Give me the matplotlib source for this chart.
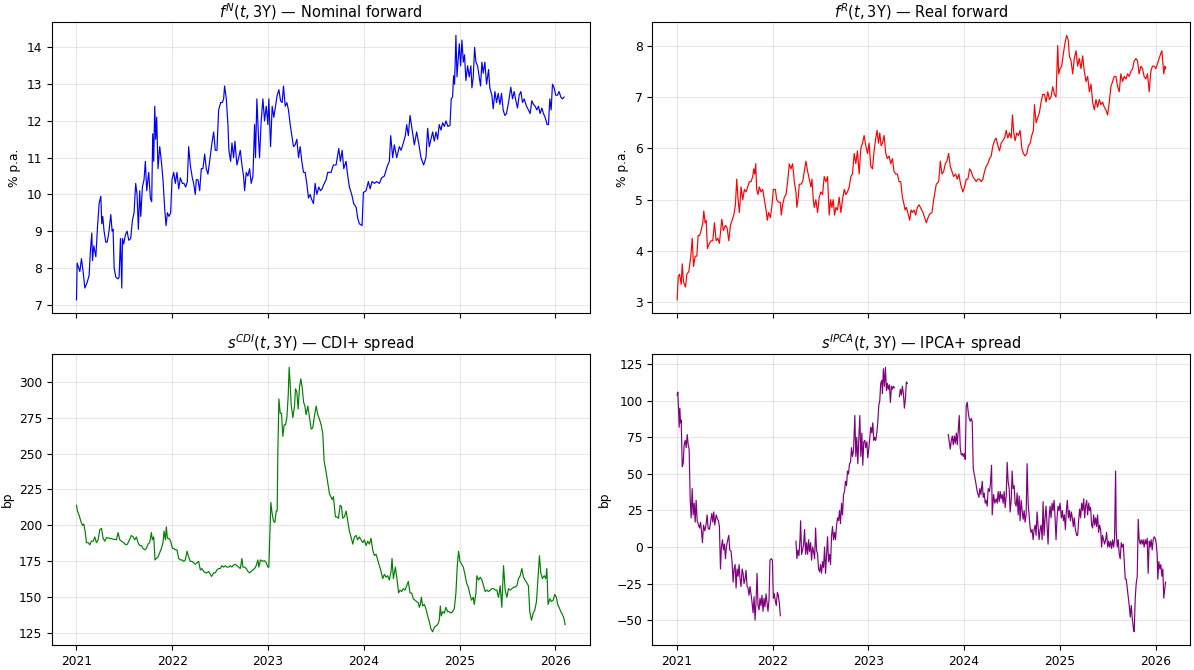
import matplotlib
matplotlib.use("Agg")
import matplotlib.pyplot as plt
import matplotlib.dates as mdates
import numpy as np
import pandas as pd

# time is stored as years since 2021-01-01
nom_t = [0.000, 0.007, 0.035, 0.052, 0.069, 0.087, 0.111, 0.132, 0.146, 0.160, 0.167, 0.181, 0.202, 0.219,
         0.236, 0.254, 0.264, 0.274, 0.288, 0.306, 0.320, 0.337, 0.358, 0.372, 0.382, 0.393, 0.410, 0.434,
         0.445, 0.459, 0.473, 0.480, 0.493, 0.511, 0.528, 0.546, 0.566, 0.584, 0.601, 0.618, 0.632, 0.646,
         0.660, 0.671, 0.688, 0.705, 0.719, 0.733, 0.754, 0.771, 0.785, 0.796, 0.806, 0.817, 0.827, 0.837,
         0.851, 0.869, 0.886, 0.903, 0.921, 0.935, 0.949, 0.966, 0.983, 0.997, 1.015, 1.032, 1.049, 1.067,
         1.084, 1.105, 1.122, 1.140, 1.157, 1.171, 1.188, 1.209, 1.223, 1.240, 1.251, 1.268, 1.286, 1.303,
         1.320, 1.338, 1.355, 1.372, 1.390, 1.414, 1.432, 1.449, 1.466, 1.484, 1.505, 1.522, 1.536, 1.546,
         1.564, 1.581, 1.591, 1.609, 1.623, 1.640, 1.654, 1.675, 1.692, 1.710, 1.727, 1.744, 1.755, 1.772,
         1.789, 1.807, 1.824, 1.842, 1.859, 1.869, 1.883, 1.901, 1.911, 1.928, 1.946, 1.963, 1.981, 1.998,
         2.008, 2.026, 2.043, 2.060, 2.078, 2.095, 2.113, 2.130, 2.147, 2.161, 2.179, 2.196, 2.213, 2.231,
         2.248, 2.265, 2.283, 2.300, 2.318, 2.335, 2.352, 2.370, 2.387, 2.404, 2.422, 2.439, 2.457, 2.474,
         2.491, 2.509, 2.530, 2.547, 2.564, 2.578, 2.606, 2.623, 2.658, 2.682, 2.710, 2.738, 2.755, 2.773,
         2.790, 2.814, 2.832, 2.849, 2.873, 2.894, 2.919, 2.936, 2.953, 2.981, 2.995, 3.023, 3.047, 3.065,
         3.085, 3.110, 3.134, 3.162, 3.186, 3.214, 3.242, 3.266, 3.280, 3.301, 3.318, 3.343, 3.370, 3.388,
         3.412, 3.433, 3.447, 3.464, 3.482, 3.502, 3.527, 3.551, 3.572, 3.596, 3.624, 3.648, 3.666, 3.683,
         3.700, 3.718, 3.735, 3.753, 3.770, 3.787, 3.805, 3.822, 3.840, 3.857, 3.878, 3.899, 3.912, 3.926,
         3.937, 3.947, 3.961, 3.972, 3.985, 3.996, 4.010, 4.024, 4.038, 4.051, 4.065, 4.083, 4.100, 4.117,
         4.128, 4.142, 4.156, 4.170, 4.187, 4.204, 4.218, 4.232, 4.246, 4.263, 4.281, 4.302, 4.315, 4.336,
         4.350, 4.368, 4.385, 4.402, 4.420, 4.437, 4.454, 4.472, 4.489, 4.510, 4.534, 4.552, 4.569, 4.587,
         4.604, 4.621, 4.639, 4.656, 4.673, 4.698, 4.718, 4.736, 4.753, 4.771, 4.788, 4.805, 4.823, 4.840,
         4.858, 4.875, 4.892, 4.913, 4.927, 4.941, 4.955, 4.969, 4.986, 5.003, 5.021, 5.038, 5.056, 5.073,
         5.090]
nom_vals = [7.13, 8.13, 7.9, 8.25, 7.9, 7.45, 7.6, 7.8, 8.5, 8.95, 8.2, 8.6, 8.3, 9.1,
            9.75, 9.95, 9.2, 9.4, 9.0, 8.7, 8.7, 8.95, 9.45, 9.0, 9.05, 8.0, 7.75, 7.7,
            7.75, 8.8, 7.45, 8.8, 8.65, 8.9, 9.0, 8.75, 8.8, 9.3, 9.5, 10.3, 10.0, 9.05,
            10.1, 9.4, 10.2, 10.4, 10.9, 10.1, 10.6, 9.9, 9.8, 11.65, 10.9, 12.4, 11.5, 12.1,
            10.7, 11.3, 10.9, 10.4, 9.6, 9.15, 9.5, 9.4, 9.5, 10.4, 10.6, 10.3, 10.6, 10.15,
            10.45, 10.3, 10.3, 10.2, 10.35, 11.3, 10.8, 10.45, 10.3, 10.0, 10.4, 10.4, 10.1, 10.7,
            10.7, 11.1, 10.7, 10.55, 10.9, 11.4, 11.7, 11.2, 11.2, 12.3, 12.5, 12.5, 12.6, 12.95,
            12.6, 11.9, 11.2, 10.9, 11.4, 11.0, 11.45, 10.8, 11.0, 11.2, 10.8, 10.5, 10.1, 10.6,
            10.5, 10.7, 10.3, 10.5, 11.9, 11.0, 12.6, 11.5, 11.0, 12.0, 12.6, 12.0, 12.4, 11.9,
            12.6, 11.3, 12.4, 12.1, 12.4, 12.7, 12.85, 12.55, 12.5, 12.95, 12.4, 12.5, 12.3, 11.9,
            11.6, 11.3, 11.35, 11.5, 11.0, 11.3, 10.9, 10.6, 10.6, 10.3, 9.9, 10.0, 9.85, 9.75,
            10.3, 10.0, 10.2, 10.1, 10.15, 10.25, 10.4, 10.6, 10.6, 10.8, 10.8, 11.25, 10.9, 11.2,
            10.7, 10.9, 10.5, 10.2, 10.0, 9.75, 9.65, 9.35, 9.2, 9.15, 10.05, 10.1, 10.35, 10.15,
            10.35, 10.3, 10.35, 10.3, 10.45, 10.5, 10.75, 10.9, 11.6, 11.0, 11.35, 11.0, 11.3, 11.2,
            11.4, 11.6, 11.9, 11.6, 12.15, 11.8, 11.35, 11.7, 11.4, 11.0, 10.8, 11.0, 11.8, 11.3,
            11.5, 11.7, 11.45, 11.7, 11.5, 11.9, 11.75, 11.95, 11.85, 12.0, 11.85, 11.88, 12.6, 12.65,
            13.23, 13.0, 14.33, 13.2, 13.7, 14.1, 13.5, 14.2, 13.6, 13.8, 13.1, 13.5, 13.2, 13.5,
            12.9, 13.2, 14.0, 13.6, 13.5, 13.2, 12.95, 13.6, 13.3, 13.6, 13.0, 13.4, 12.9, 12.7,
            12.33, 12.8, 12.5, 12.75, 12.45, 12.75, 12.3, 12.15, 12.2, 12.5, 12.92, 12.6, 12.8, 12.55,
            12.35, 12.7, 12.8, 12.5, 12.6, 12.4, 12.3, 12.2, 12.55, 12.45, 12.4, 12.3, 12.4, 12.2,
            12.35, 12.2, 12.1, 11.9, 11.9, 12.6, 12.3, 13.0, 12.9, 12.7, 12.7, 12.8, 12.65, 12.6,
            12.65]

real_t = [0.003, 0.014, 0.028, 0.045, 0.056, 0.069, 0.090, 0.104, 0.125, 0.146, 0.160, 0.174, 0.191, 0.208,
          0.222, 0.236, 0.253, 0.271, 0.281, 0.295, 0.306, 0.319, 0.340, 0.358, 0.375, 0.392, 0.410, 0.427,
          0.444, 0.469, 0.486, 0.507, 0.524, 0.542, 0.559, 0.576, 0.594, 0.611, 0.625, 0.639, 0.653, 0.670,
          0.688, 0.705, 0.722, 0.740, 0.757, 0.774, 0.792, 0.802, 0.813, 0.823, 0.833, 0.847, 0.861, 0.878,
          0.896, 0.913, 0.931, 0.944, 0.958, 0.976, 0.993, 1.007, 1.028, 1.042, 1.063, 1.080, 1.090, 1.104,
          1.122, 1.139, 1.156, 1.174, 1.191, 1.208, 1.226, 1.243, 1.253, 1.267, 1.278, 1.295, 1.313, 1.330,
          1.347, 1.365, 1.382, 1.399, 1.410, 1.424, 1.434, 1.451, 1.469, 1.486, 1.503, 1.521, 1.538, 1.556,
          1.573, 1.590, 1.604, 1.618, 1.632, 1.646, 1.660, 1.677, 1.694, 1.712, 1.729, 1.747, 1.764, 1.781,
          1.799, 1.816, 1.833, 1.851, 1.868, 1.885, 1.903, 1.920, 1.938, 1.955, 1.972, 1.990, 2.007, 2.024,
          2.042, 2.059, 2.076, 2.090, 2.104, 2.118, 2.132, 2.146, 2.163, 2.181, 2.198, 2.215, 2.233, 2.250,
          2.267, 2.285, 2.302, 2.319, 2.337, 2.354, 2.372, 2.382, 2.396, 2.417, 2.431, 2.444, 2.458, 2.476,
          2.493, 2.510, 2.528, 2.569, 2.604, 2.622, 2.639, 2.663, 2.681, 2.708, 2.733, 2.750, 2.767, 2.785,
          2.802, 2.819, 2.837, 2.854, 2.872, 2.889, 2.910, 2.927, 2.944, 2.962, 2.986, 3.003, 3.021, 3.038,
          3.056, 3.073, 3.090, 3.108, 3.125, 3.142, 3.160, 3.177, 3.194, 3.212, 3.229, 3.247, 3.264, 3.281,
          3.299, 3.316, 3.333, 3.351, 3.368, 3.385, 3.403, 3.420, 3.438, 3.455, 3.472, 3.490, 3.503, 3.517,
          3.531, 3.549, 3.566, 3.583, 3.601, 3.618, 3.635, 3.653, 3.670, 3.688, 3.705, 3.722, 3.733, 3.750,
          3.767, 3.785, 3.802, 3.819, 3.837, 3.854, 3.872, 3.889, 3.906, 3.924, 3.941, 3.958, 3.969, 3.976,
          3.986, 4.000, 4.017, 4.035, 4.052, 4.069, 4.087, 4.097, 4.115, 4.132, 4.149, 4.167, 4.184, 4.201,
          4.219, 4.236, 4.253, 4.271, 4.288, 4.306, 4.323, 4.340, 4.358, 4.375, 4.392, 4.410, 4.427, 4.444,
          4.462, 4.479, 4.497, 4.514, 4.531, 4.549, 4.566, 4.583, 4.601, 4.618, 4.635, 4.653, 4.670, 4.688,
          4.705, 4.722, 4.740, 4.757, 4.774, 4.792, 4.809, 4.826, 4.844, 4.861, 4.878, 4.896, 4.913, 4.931,
          4.948, 4.965, 4.983, 5.000, 5.017, 5.035, 5.052, 5.063, 5.076, 5.083, 5.094, 5.101]
real_vals = [3.05, 3.5, 3.55, 3.35, 3.75, 3.4, 3.3, 3.55, 3.6, 3.9, 4.25, 3.7, 3.9, 3.9,
             4.3, 4.3, 4.4, 4.55, 4.78, 4.55, 4.6, 4.05, 4.15, 4.2, 4.2, 4.55, 4.2, 4.25,
             4.15, 4.62, 4.4, 4.5, 4.45, 4.2, 4.5, 4.6, 4.7, 4.9, 5.4, 5.0, 4.75, 5.25,
             5.0, 5.2, 5.15, 5.25, 5.35, 5.35, 5.45, 5.6, 5.5, 5.7, 5.2, 5.1, 5.25, 5.15,
             5.2, 5.0, 4.8, 4.6, 4.75, 4.65, 4.9, 5.2, 5.2, 5.0, 4.95, 4.95, 4.7, 4.9,
             5.05, 5.1, 5.35, 5.7, 5.6, 5.7, 5.35, 5.15, 4.85, 5.05, 5.3, 5.3, 5.35, 5.55,
             5.75, 5.55, 5.4, 5.25, 5.4, 5.0, 4.85, 5.0, 4.75, 5.05, 5.15, 5.1, 5.45, 5.35,
             5.45, 4.7, 5.0, 4.85, 5.0, 4.7, 4.85, 4.8, 5.05, 4.75, 5.0, 5.2, 5.1, 5.15,
             5.25, 5.45, 5.5, 5.9, 5.7, 5.95, 5.5, 6.0, 6.1, 6.25, 6.05, 5.9, 6.1, 5.65,
             5.6, 5.95, 6.2, 6.35, 6.1, 6.3, 6.05, 6.1, 6.25, 5.9, 5.8, 5.85, 5.7, 5.8,
             5.55, 5.5, 5.5, 5.35, 5.35, 5.05, 4.9, 4.8, 4.85, 4.7, 4.6, 4.8, 4.75, 4.8,
             4.7, 4.85, 4.9, 4.75, 4.55, 4.65, 4.72, 4.75, 5.0, 5.3, 5.35, 5.75, 5.5, 5.55,
             5.7, 5.75, 5.9, 5.65, 5.55, 5.45, 5.5, 5.4, 5.5, 5.3, 5.15, 5.25, 5.4, 5.4,
             5.6, 5.55, 5.45, 5.4, 5.35, 5.4, 5.4, 5.35, 5.4, 5.55, 5.65, 5.7, 5.8, 5.85,
             6.05, 6.15, 6.2, 6.05, 5.95, 6.1, 6.15, 6.2, 6.35, 6.2, 6.3, 6.2, 6.65, 6.3,
             6.15, 6.3, 6.25, 6.35, 6.0, 5.9, 5.85, 5.9, 6.05, 6.1, 6.25, 6.35, 6.85, 6.5,
             6.6, 6.7, 6.9, 7.05, 7.05, 6.9, 7.1, 6.95, 7.0, 7.2, 7.05, 7.0, 7.65, 8.0,
             7.45, 7.55, 7.6, 7.85, 8.05, 8.2, 8.1, 7.8, 7.7, 7.45, 7.75, 7.9, 7.6, 7.75,
             7.55, 7.8, 7.5, 7.3, 7.4, 7.1, 7.25, 6.9, 6.75, 6.95, 6.8, 6.95, 6.85, 6.9,
             6.8, 6.75, 6.65, 6.9, 7.2, 7.3, 7.4, 7.4, 7.2, 7.1, 7.45, 7.3, 7.4, 7.35,
             7.45, 7.4, 7.5, 7.55, 7.7, 7.75, 7.7, 7.45, 7.6, 7.55, 7.4, 7.35, 7.45, 7.1,
             7.5, 7.6, 7.6, 7.55, 7.65, 7.75, 7.85, 7.9, 7.6, 7.45, 7.6, 7.55]

cdi_t = [0.000, 0.010, 0.028, 0.045, 0.063, 0.076, 0.090, 0.104, 0.122, 0.139, 0.156, 0.174, 0.191, 0.208,
         0.226, 0.243, 0.261, 0.278, 0.295, 0.313, 0.347, 0.382, 0.417, 0.434, 0.452, 0.469, 0.493, 0.514,
         0.532, 0.556, 0.573, 0.591, 0.608, 0.625, 0.643, 0.660, 0.678, 0.695, 0.712, 0.730, 0.747, 0.764,
         0.782, 0.792, 0.806, 0.820, 0.834, 0.851, 0.869, 0.886, 0.903, 0.914, 0.928, 0.938, 0.949, 0.966,
         0.983, 1.001, 1.015, 1.032, 1.049, 1.067, 1.084, 1.101, 1.119, 1.136, 1.154, 1.171, 1.188, 1.206,
         1.223, 1.240, 1.258, 1.275, 1.293, 1.310, 1.327, 1.345, 1.362, 1.379, 1.397, 1.411, 1.432, 1.449,
         1.466, 1.484, 1.501, 1.518, 1.536, 1.553, 1.571, 1.588, 1.605, 1.623, 1.640, 1.657, 1.675, 1.692,
         1.710, 1.727, 1.737, 1.755, 1.772, 1.789, 1.807, 1.824, 1.842, 1.859, 1.876, 1.894, 1.904, 1.921,
         1.946, 1.963, 1.981, 1.998, 2.008, 2.029, 2.043, 2.057, 2.071, 2.085, 2.095, 2.102, 2.113, 2.127,
         2.140, 2.154, 2.168, 2.182, 2.196, 2.210, 2.220, 2.231, 2.241, 2.259, 2.276, 2.286, 2.300, 2.314,
         2.328, 2.342, 2.356, 2.370, 2.384, 2.397, 2.415, 2.432, 2.450, 2.467, 2.484, 2.502, 2.519, 2.536,
         2.554, 2.571, 2.585, 2.606, 2.641, 2.669, 2.682, 2.703, 2.717, 2.735, 2.752, 2.766, 2.780, 2.797,
         2.815, 2.832, 2.849, 2.866, 2.884, 2.901, 2.919, 2.936, 2.953, 2.971, 2.988, 3.006, 3.023, 3.040,
         3.058, 3.075, 3.092, 3.110, 3.127, 3.145, 3.162, 3.179, 3.197, 3.214, 3.231, 3.249, 3.266, 3.284,
         3.294, 3.308, 3.329, 3.343, 3.363, 3.377, 3.395, 3.412, 3.430, 3.447, 3.464, 3.482, 3.499, 3.516,
         3.534, 3.551, 3.569, 3.579, 3.589, 3.600, 3.614, 3.631, 3.648, 3.666, 3.683, 3.700, 3.718, 3.735,
         3.753, 3.770, 3.787, 3.798, 3.808, 3.822, 3.840, 3.857, 3.874, 3.892, 3.909, 3.926, 3.944, 3.961,
         3.975, 3.989, 4.003, 4.020, 4.038, 4.055, 4.072, 4.090, 4.107, 4.124, 4.142, 4.152, 4.170, 4.180,
         4.197, 4.215, 4.232, 4.249, 4.267, 4.284, 4.301, 4.319, 4.336, 4.354, 4.371, 4.388, 4.406, 4.423,
         4.440, 4.458, 4.475, 4.493, 4.510, 4.527, 4.545, 4.562, 4.579, 4.597, 4.614, 4.632, 4.649, 4.666,
         4.684, 4.701, 4.718, 4.732, 4.750, 4.767, 4.784, 4.802, 4.819, 4.833, 4.847, 4.864, 4.882, 4.899,
         4.910, 4.923, 4.941, 4.958, 4.976, 4.993, 5.010, 5.024, 5.038, 5.056, 5.073, 5.090, 5.101]
cdi_vals = [214, 210, 207, 203, 200, 201, 196, 188, 188, 186.5, 189, 189, 192, 188,
            190, 197, 198, 191, 189, 191.5, 191, 190.5, 190, 195, 190, 189, 188, 186.5,
            187, 190.5, 193, 192, 190, 192, 188, 186, 186, 184, 183, 184, 187, 188,
            195, 190, 192, 176, 177, 178, 181, 184, 188, 196, 190, 199, 191, 191,
            189, 184, 184, 183, 183, 177, 176, 176, 175, 176, 182, 178, 175, 175,
            174, 173, 174, 175, 169, 170, 168, 167, 167, 168, 166, 164.5, 167, 167,
            169, 170, 170, 172, 171, 172, 171, 171, 172, 171, 172.5, 173, 172, 171,
            170, 177, 171, 171, 170, 168, 167, 168, 169, 170, 172, 176, 171, 176,
            175, 175.5, 174, 171, 171, 216, 208, 203, 202, 210, 210, 250, 288, 278,
            278, 262, 270, 270, 275, 290, 310, 298, 284, 275, 283, 295, 293, 281,
            296, 302, 296, 286, 283, 277, 283, 275, 267, 268, 276, 283, 277, 274,
            270, 264, 245, 237, 222, 218, 220, 206, 206, 205, 214, 213, 205, 206,
            210, 203, 196, 192, 187, 192, 193, 190, 192, 190, 188, 190, 186, 189,
            187, 191, 183, 179, 180, 176, 172, 168, 163, 166, 164, 165, 162, 168,
            177, 163, 171, 164, 153, 155, 154, 156, 155, 158, 161, 153, 153, 149,
            148, 147, 146, 143, 145, 150, 144, 145, 142, 137, 133, 128, 126, 129,
            130, 131, 134, 144, 137, 140, 139, 143, 140, 140, 139, 140, 142, 153,
            172, 182, 175, 173, 171, 166, 160, 157, 152, 148, 150, 145, 153, 165,
            162, 164, 162, 158, 154, 155, 154, 155, 156, 156, 155, 155, 150, 158,
            143, 172, 155, 150, 156, 155, 156, 157, 157, 158, 163, 165, 170, 164,
            162, 160, 158, 140, 134, 139, 141, 147, 165, 179, 167, 163, 165, 163,
            170, 145, 149, 147, 148, 152, 150, 145, 143, 140, 138, 135, 131]

# NaN marks days without a quote (gaps in the series)
ipca_t = [0.003, 0.010, 0.017, 0.024, 0.031, 0.038, 0.045, 0.056, 0.066, 0.076, 0.087, 0.097, 0.108, 0.118,
          0.128, 0.139, 0.149, 0.160, 0.170, 0.181, 0.191, 0.201, 0.212, 0.222, 0.236, 0.247, 0.257, 0.267,
          0.278, 0.292, 0.306, 0.316, 0.326, 0.340, 0.351, 0.365, 0.375, 0.385, 0.396, 0.410, 0.424, 0.434,
          0.444, 0.455, 0.465, 0.476, 0.486, 0.497, 0.507, 0.517, 0.528, 0.542, 0.552, 0.566, 0.576, 0.587,
          0.597, 0.608, 0.618, 0.628, 0.639, 0.649, 0.660, 0.670, 0.681, 0.691, 0.701, 0.712, 0.722, 0.733,
          0.743, 0.753, 0.764, 0.774, 0.785, 0.795, 0.806, 0.816, 0.826, 0.837, 0.847, 0.858, 0.868, 0.878,
          0.889, 0.899, 0.910, 0.920, 0.931, 0.941, 0.951, 0.962, 0.972, 0.986, 0.997, 1.007, 1.017, 1.028,
          1.038, 1.049, 1.059, 1.069, 1.080, 1.150,
          1.243, 1.253, 1.264, 1.274, 1.285, 1.292, 1.302, 1.313, 1.323, 1.333, 1.344, 1.354, 1.365, 1.375,
          1.385, 1.396, 1.406, 1.417, 1.427, 1.438, 1.448, 1.458, 1.469, 1.479, 1.490, 1.500, 1.510, 1.521,
          1.531, 1.542, 1.552, 1.563, 1.573, 1.583, 1.594, 1.604, 1.615, 1.625, 1.635, 1.646, 1.656, 1.667,
          1.677, 1.688, 1.698, 1.708, 1.719, 1.729, 1.740, 1.750, 1.760, 1.771, 1.781, 1.792, 1.802, 1.813,
          1.823, 1.833, 1.844, 1.858, 1.868, 1.878, 1.889, 1.899, 1.910, 1.920, 1.931, 1.941, 1.951, 1.962,
          1.972, 1.983, 1.993, 2.003, 2.014, 2.024, 2.035, 2.045, 2.056, 2.066, 2.076, 2.087, 2.097, 2.108,
          2.118, 2.128, 2.139, 2.146, 2.156, 2.167, 2.177, 2.188, 2.198, 2.208, 2.219, 2.229, 2.240, 2.250,
          2.260, 2.271, 2.290,
          2.323, 2.333, 2.344, 2.354, 2.365, 2.375, 2.385, 2.396, 2.406, 2.600,
          2.833, 2.844, 2.854, 2.865, 2.875, 2.885, 2.896, 2.906, 2.917, 2.927, 2.938, 2.948, 2.958, 2.969,
          2.979, 2.990, 3.000, 3.010, 3.021, 3.031, 3.042, 3.052, 3.063, 3.073, 3.083, 3.094, 3.104, 3.118,
          3.135, 3.153, 3.163, 3.174, 3.188, 3.198, 3.208, 3.219, 3.229, 3.240, 3.250, 3.264, 3.274, 3.285,
          3.292, 3.306, 3.319, 3.333, 3.344, 3.354, 3.365, 3.375, 3.385, 3.396, 3.406, 3.417, 3.427, 3.438,
          3.448, 3.458, 3.469, 3.479, 3.490, 3.500, 3.510, 3.521, 3.531, 3.542, 3.552, 3.563, 3.573, 3.583,
          3.594, 3.604, 3.615, 3.625, 3.635, 3.646, 3.656, 3.667, 3.677, 3.688, 3.698, 3.708, 3.719, 3.729,
          3.740, 3.750, 3.760, 3.771, 3.781, 3.792, 3.802, 3.813, 3.823, 3.833, 3.844, 3.854, 3.865, 3.875,
          3.885, 3.896, 3.906, 3.917, 3.927, 3.938, 3.948, 3.958, 3.969, 3.979, 3.990, 4.000, 4.014, 4.024,
          4.035, 4.045, 4.056, 4.066, 4.076, 4.087, 4.097, 4.108, 4.118, 4.128, 4.139, 4.149, 4.160, 4.174,
          4.184, 4.194, 4.205, 4.215, 4.226, 4.236, 4.247, 4.257, 4.267, 4.278, 4.288, 4.299, 4.309, 4.319,
          4.330, 4.340, 4.351, 4.361, 4.372, 4.382, 4.392, 4.403, 4.413, 4.424, 4.434, 4.444, 4.455, 4.465,
          4.476, 4.486, 4.497, 4.507, 4.517, 4.528, 4.538, 4.549, 4.559, 4.569, 4.580, 4.587, 4.597, 4.608,
          4.618, 4.628, 4.639, 4.649, 4.660, 4.670, 4.681, 4.691, 4.701, 4.712, 4.722, 4.733, 4.743, 4.753,
          4.764, 4.774, 4.785, 4.795, 4.806, 4.816, 4.826, 4.837, 4.847, 4.858, 4.868, 4.878, 4.889, 4.899,
          4.910, 4.920, 4.931, 4.941, 4.951, 4.962, 4.972, 4.983, 4.993, 5.003, 5.014, 5.021, 5.031, 5.042,
          5.052, 5.063, 5.073, 5.083, 5.094, 5.101]
ipca_vals = [104, 106, 95, 82, 95, 85, 87, 55, 57, 70, 73, 68, 77, 70,
             67, 33, 20, 40, 22, 30, 17, 32, 18, 16, 13, 17, 11, 3,
             15, 11, 16, 22, 13, 12, 17, 23, 17, 24, 15, 22, 19, 18,
             14, -15, 0, 5, -2, 2, -8, 0, 4, 8, -2, -3, -10, -24,
             -15, -12, -28, -15, -20, -12, -22, -27, -15, -18, -25, -22, -16, -27,
             -28, -33, -27, -32, -38, -45, -34, -50, -38, -18, -40, -43, -35, -40,
             -33, -44, -35, -41, -32, -38, -44, -36, -9, -8, -9, -35, -32, -37,
             -40, -31, -33, -38, -47, np.nan,
             4, -8, -2, -6, 5, 18, -5, -2, 2, 12, -5, 3, -5, 5,
             -3, 3, -9, 0, -3, -8, 13, -2, -5, -15, -17, -12, -18, -10,
             -14, 0, -18, -5, 7, -10, -5, -12, 8, 14, 5, 10, 5, 15,
             20, 18, 25, 16, 30, 22, 36, 38, 45, 42, 52, 50, 57, 58,
             68, 62, 66, 90, 62, 75, 57, 74, 90, 62, 78, 56, 72, 73,
             68, 72, 61, 67, 75, 82, 78, 85, 73, 75, 73, 78, 85, 97,
             100, 112, 114, 105, 122, 110, 123, 107, 112, 108, 111, 99, 110, 108,
             110, 109, np.nan,
             103, 108, 104, 110, 105, 95, 101, 113, 112, np.nan,
             77, 72, 67, 73, 76, 70, 76, 71, 78, 70, 80, 90, 68, 63,
             64, 62, 64, 60, 97, 99, 92, 88, 86, 88, 86, 54, 50, 45,
             38, 34, 40, 36, 45, 34, 37, 30, 32, 28, 40, 38, 44, 56,
             22, 36, 30, 33, 30, 38, 31, 38, 33, 36, 30, 38, 27, 35,
             58, 45, 40, 24, 32, 52, 40, 42, 30, 28, 37, 22, 35, 18,
             32, 25, 19, 25, 17, 22, 57, 30, 22, 13, 10, 12, 5, 12,
             15, 8, 24, 14, 5, 12, 15, 5, 31, 8, 20, 28, 15, 2,
             20, 28, 20, 30, 25, 32, 20, 5, 20, 28, 25, 30, 20, 25,
             18, 22, 12, 25, 32, 20, 25, 18, 24, 20, 14, 20, 12, 8,
             8, 18, 26, 20, 30, 25, 33, 20, 28, 32, 22, 30, 25, 27,
             15, 13, 22, 15, 20, 14, 22, 10, 15, 12, 0, 8, 5, 2,
             5, 10, 0, 4, 0, 4, -1, 5, 0, 5, 52, 10, 0, 5,
             -5, -8, 3, 0, 2, -10, -22, -22, -28, -35, -40, -48, -40, -48,
             -55, -58, -35, -25, -20, 19, 5, 2, 5, 2, 5, 0, 5, 2,
             6, -18, 4, 0, 5, -2, 5, 7, 6, 3, -5, -22, -10, -15,
             -12, -20, -15, -35, -28, -24]


def to_dates(years_since_2021):
    days = np.asarray(years_since_2021) * 365.25
    return pd.Timestamp("2021-01-01") + pd.to_timedelta(days, unit="D")


plt.rcParams["font.size"] = 8.8
plt.rcParams["axes.titlesize"] = 10.5
plt.rcParams["axes.titlepad"] = 3.0

fig, axes = plt.subplots(2, 2, figsize=(11.94, 6.7), dpi=100, sharex=True)
fig.subplots_adjust(left=0.0436, right=0.9966, top=0.967, bottom=0.0373, wspace=0.117, hspace=0.141)

panels = [
    (axes[0, 0], nom_t, nom_vals, "blue", r"$f^{N}(t,3\mathrm{Y})$ — Nominal forward", "% p.a."),
    (axes[0, 1], real_t, real_vals, "red", r"$f^{R}(t,3\mathrm{Y})$ — Real forward", "% p.a."),
    (axes[1, 0], cdi_t, cdi_vals, "green", r"$s^{CDI}(t,3\mathrm{Y})$ — CDI+ spread", "bp"),
    (axes[1, 1], ipca_t, ipca_vals, "purple", r"$s^{IPCA}(t,3\mathrm{Y})$ — IPCA+ spread", "bp"),
]

for ax, t, vals, color, title, ylabel in panels:
    ax.plot(to_dates(t), vals, color=color, lw=0.85)
    ax.set_title(title)
    ax.set_ylabel(ylabel)
    ax.grid(True, alpha=0.3)

for ax in axes[1]:
    ax.xaxis.set_major_locator(mdates.YearLocator())
    ax.xaxis.set_major_formatter(mdates.DateFormatter("%Y"))

fig.savefig("out.png", dpi=100)
